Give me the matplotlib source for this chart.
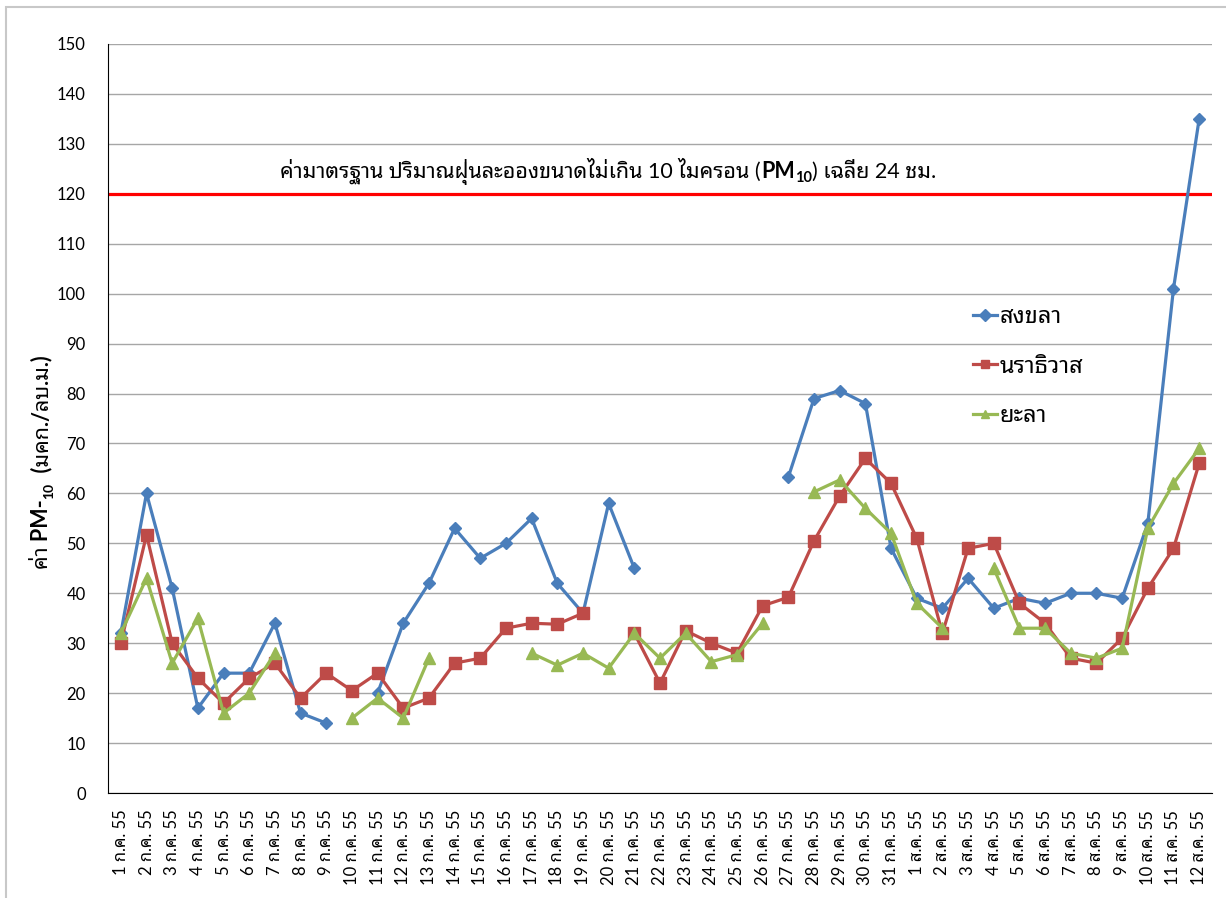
import matplotlib
matplotlib.use("Agg")
import matplotlib.pyplot as plt
from matplotlib.patches import Rectangle
import numpy as np

nan = np.nan

# dates: 1-31 July and 1-12 August 2555 (2012)
july = ["%d ก.ค. 55" % d for d in range(1, 32)]
aug = ["%d ส.ค. 55" % d for d in range(1, 13)]
dates = july + aug

songkhla = [32, 60, 41, 17, 24, 24, 34, 16, 14, nan,
            20, 34, 42, 53, 47, 50, 55, 42, 36, 58,
            45, nan, nan, nan, nan, nan, 63.3, 79, 80.6, 78,
            49,
            39, 37, 43, 37, 39, 38, 40, 40, 39, 54, 101, 135]
narathiwat = [30, 51.7, 30, 23, 18, 23, 26, 19, 24, 20.5,
              24, 17, 19, 26, 27, 33, 34, 33.8, 36, nan,
              32, 22, 32.5, 30, 28, 37.5, 39.2, 50.5, 59.5, 67,
              62,
              51, 32, 49, 50, 38, 34, 27, 26, 31, 41, 49, 66]
yala = [32, 43, 26, 35, 16, 20, 28, nan, nan, 15,
        19, 15, 27, nan, nan, nan, 28, 25.6, 28, 25,
        32, 27, 32, 26.3, 27.7, 34, nan, 60.3, 62.7, 57,
        52,
        38, 33, nan, 45, 33, 33, 28, 27, 29, 53, 62, 69]
names = ["สงขลา", "นราธิวาส", "ยะลา"]
standard = 120

fonts = ["Lato", "Noto Sans Thai Looped", "Sarabun", "Noto Sans Thai", "Athiti", "Bai Jamjuree"]
plt.rcParams["font.family"] = fonts

W, H = 1226, 898
fig = plt.figure(figsize=(W / 100, H / 100), dpi=100)
ax = fig.add_axes([108 / W, 1 - 793 / H, 1104 / W, 749 / H])

x = np.arange(len(dates))
ax.plot(x, songkhla, color="#4A7EBB", lw=2.3, marker="D", ms=6, label=names[0])
ax.plot(x, narathiwat, color="#BE4B48", lw=2.3, marker="s", ms=8, label=names[1])
ax.plot(x, yala, color="#98B954", lw=2.3, marker="^", ms=8, label=names[2])
ax.axhline(standard, color="#FF0000", lw=2.3, zorder=1)

ax.set_xlim(-0.5, len(dates) - 0.5)
ax.set_ylim(0, 150)
ax.set_yticks(range(0, 151, 10))
ax.set_xticks(x)
ax.set_xticklabels(dates, rotation=90, fontsize=12)
ax.tick_params(axis="y", length=0, pad=16, labelsize=12)
ax.tick_params(axis="x", length=0, pad=12)
ax.yaxis.grid(True, color="#A6A6A6", lw=1)
ax.set_axisbelow(True)
for s in ["top", "right"]:
    ax.spines[s].set_visible(False)
ax.spines["left"].set_color("black")
ax.spines["bottom"].set_color("black")

leg = ax.legend(loc="upper left", bbox_to_anchor=(0.7645, 0.678), frameon=False,
                fontsize=17, handlelength=1.0, handletextpad=0.1, labelspacing=1.2)
for h in leg.legend_handles:
    h.set_markersize(6)

renderer = fig.canvas.get_renderer()


def place(pieces, cx, cy, rot=0):
    # pieces: (text, size, weight, shift_px)
    widths = []
    for s, size, wt, sh in pieces:
        t = fig.text(0, 0, s, fontsize=size, weight=wt)
        widths.append(t.get_window_extent(renderer).width)
        t.remove()
    pos = -sum(widths) / 2
    for (s, size, wt, sh), w in zip(pieces, widths):
        if rot == 0:
            px, py = cx + pos, cy - sh
        else:
            px, py = cx + sh, cy + pos
        fig.text(px / W, py / H, s, fontsize=size, weight=wt, rotation=rot,
                 rotation_mode="anchor", ha="left", va="baseline")
        pos += w


note = [("ค่ามาตรฐาน ปริมาณฝุ่นละอองขนาดไม่เกิน 10 ไมครอน (", 15.5, "normal", 0),
        ("PM", 15.5, "bold", 0), ("10", 10.5, "bold", 4),
        (") เฉลี่ย 24 ชม.", 15.5, "normal", 0)]
place(note, 608, H - 178)

ylab = [("ค่า PM-", 15.5, "bold", 0), ("10", 10, "bold", 5),
        ("  (มคก./ลบ.ม.)", 15.5, "bold", 0)]
place(ylab, 48, H - 462, rot=90)

fig.add_artist(Rectangle((6 / W, -0.02), 1.1, 1 - 7 / H + 0.02, transform=fig.transFigure,
                         fill=False, ec="#C8C8C8", lw=1.5))

fig.savefig("out.png", dpi=100)
